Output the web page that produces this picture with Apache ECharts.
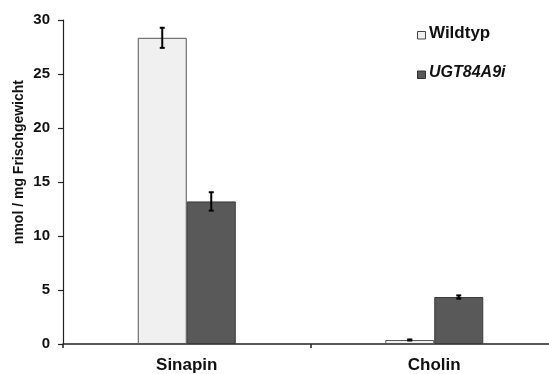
<!DOCTYPE html>
<html>
<head>
<meta charset="utf-8">
<script src="https://cdn.jsdelivr.net/npm/echarts@6/dist/echarts.min.js"></script>
<style>
html,body{margin:0;padding:0;background:#fff;overflow:hidden;}
#chart{width:562px;height:374px;}
</style>
</head>
<body>
<div id="chart"></div>
<script>
// Metabolite contents (nmol / mg fresh weight), mean and error
const categories = ['Sinapin', 'Cholin'];
const wildtypValues = [28.35, 0.37];
const wildtypErrors = [0.93, 0.05];
const ugtValues = [13.2, 4.35];
const ugtErrors = [0.85, 0.15];
const yTicks = [0, 5, 10, 15, 20, 25, 30];

const FONT = '"Liberation Sans", Arial, sans-serif';
const BAR_W = 49;

const chart = echarts.init(document.getElementById('chart'), null, {renderer: 'canvas'});

// Error bars drawn over the bars; side = -1 left bar, +1 right bar
function errorSeries(values, errors, side) {
  return {
    type: 'custom',
    z: 10,
    data: values.map((v, i) => [i, v, errors[i]]),
    renderItem: function (params, api) {
      const idx = api.value(0);
      const v = api.value(1);
      const e = api.value(2);
      const top = api.coord([idx, v + e]);
      const bot = api.coord([idx, v - e]);
      const x = top[0] + side * BAR_W / 2;
      const cap = 2.5;
      const style = {stroke: '#000', lineWidth: 2};
      return {
        type: 'group',
        children: [
          {type: 'line', shape: {x1: x, y1: top[1], x2: x, y2: bot[1]}, style: style},
          {type: 'line', shape: {x1: x - cap, y1: top[1], x2: x + cap, y2: top[1]}, style: style},
          {type: 'line', shape: {x1: x - cap, y1: bot[1], x2: x + cap, y2: bot[1]}, style: style}
        ]
      };
    }
  };
}

chart.setOption({
  animation: false,
  backgroundColor: '#fff',
  grid: {left: 63, top: 20, width: 495, height: 324, containLabel: false},
  xAxis: {
    type: 'category',
    data: categories,
    axisLine: {lineStyle: {color: '#222', width: 1.5}},
    axisTick: {show: true, length: 4, alignWithLabel: false, lineStyle: {color: '#222', width: 1.5}},
    axisLabel: {fontFamily: FONT, fontWeight: 'bold', fontSize: 17, color: '#111', margin: 13},
    splitLine: {show: false}
  },
  yAxis: {
    type: 'value',
    min: 0, max: 30, interval: 5,
    axisLine: {show: true, lineStyle: {color: '#222', width: 1.2}},
    axisTick: {show: true, length: 5, lineStyle: {color: '#222', width: 1.2}},
    axisLabel: {fontFamily: FONT, fontWeight: 'bold', fontSize: 15, color: '#111', margin: 13,
      formatter: v => yTicks.includes(v) ? String(v) : ''},
    splitLine: {show: false}
  },
  graphic: [
    {
      type: 'text', left: 12, top: 80, rotation: Math.PI / 2,
      style: {text: 'nmol / mg Frischgewicht', font: 'bold 14px ' + FONT, fill: '#111'}
    },
    {type: 'rect', left: 417, top: 31, shape: {width: 8, height: 7.5},
      style: {fill: '#f0f0f0', stroke: '#444', lineWidth: 1}},
    {type: 'text', left: 429, top: 25,
      style: {text: 'Wildtyp', font: 'bold 17px ' + FONT, fill: '#111'}},
    {type: 'rect', left: 417, top: 70.5, shape: {width: 8, height: 7.5},
      style: {fill: '#595959', stroke: '#333', lineWidth: 1}},
    {type: 'text', left: 429, top: 65,
      style: {text: 'UGT84A9i', font: 'italic bold 16px ' + FONT, fill: '#111'}}
  ],
  series: [
    {
      name: 'Wildtyp', type: 'bar', data: wildtypValues, barWidth: BAR_W, barGap: '0%',
      itemStyle: {color: '#f0f0f0', borderColor: '#555', borderWidth: 1}
    },
    {
      name: 'UGT84A9i', type: 'bar', data: ugtValues, barWidth: BAR_W, barGap: '0%',
      itemStyle: {color: '#595959', borderColor: '#3a3a3a', borderWidth: 1}
    },
    errorSeries(wildtypValues, wildtypErrors, -1),
    errorSeries(ugtValues, ugtErrors, 1)
  ]
});
</script>
</body>
</html>
